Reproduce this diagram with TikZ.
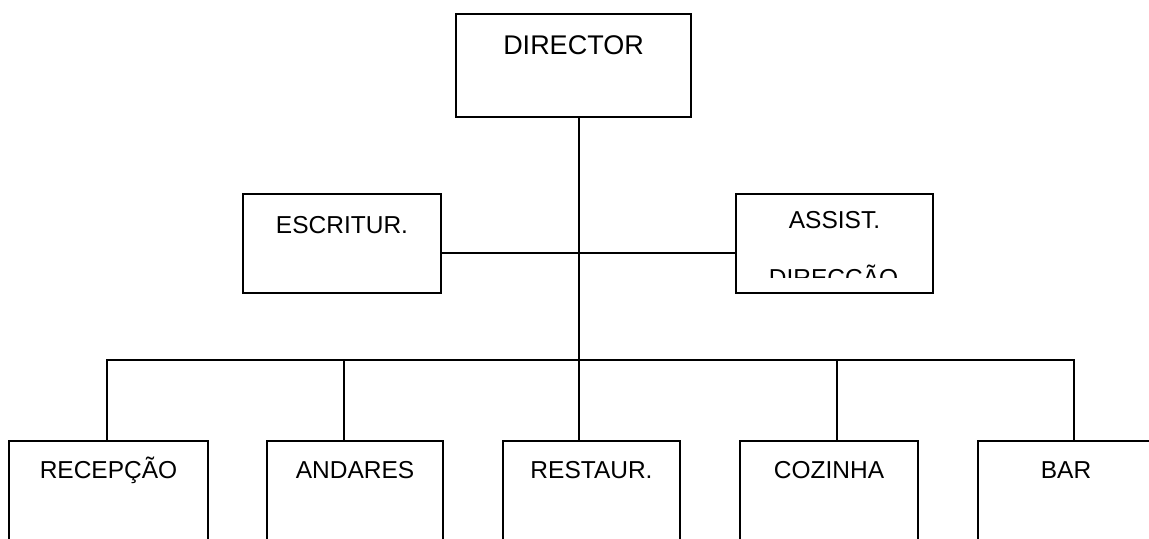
\documentclass[tikz,border=0pt]{standalone}
\usepackage{fontspec}
\setmainfont{Liberation Sans}
\usetikzlibrary{positioning, calc}

\tikzset{
  unit/.style={draw, rectangle, line width=1pt, inner xsep=0pt, inner ysep=0pt,
    anchor=north west, font=\fontsize{12.25}{14}\selectfont},
}

\begin{document}
\begin{tikzpicture}[x=0.5pt, y=-0.5pt, line width=1pt]
\useasboundingbox (0,0) rectangle (1149,538);
\clip (0,0) rectangle (1149,538);

% Director
\node[unit, minimum width=117.5pt, text height=20pt, text depth=31.5pt,
  font=\fontsize{13.5}{16}\selectfont] (director) at (455,13) {DIRECTOR};

% Staff row
\node[unit, minimum width=99pt, text height=19.5pt, text depth=30pt] (escritur) at (242,193) {ESCRITUR.};
\node[unit, minimum width=98.5pt, text height=17pt, text depth=32.5pt] (assist) at (735,193) {ASSIST.};
\begin{scope}
\clip (735,193) rectangle (933,277);
\node[font=\fontsize{12.25}{14}\selectfont, anchor=base, inner sep=0pt] (direccao) at (833.5,286) {DIRECÇÃO};
\end{scope}
\draw ([yshift=-4.5pt]escritur.east) -- ([yshift=-4.5pt]assist.west);

% Departments
\foreach \name/\x/\w/\txt in {recepcao/8/99.5/RECEPÇÃO, andares/266/88/ANDARES,
    restaur/502/88.5/RESTAUR., cozinha/739/89/COZINHA, bar/977/88/BAR} {
  \node[unit, minimum width=\w pt, text height=18.5pt, text depth=60pt] (\name) at (\x,440) {\txt};
}

% Lines
\draw ([xshift=2.5pt]director.south) -- ([xshift=2.5pt]director.south |- restaur.north);
\draw ([xshift=-1pt]recepcao.north) -- ++(0,-80) -| ([xshift=4pt]bar.north);
\draw ([xshift=-5.5pt]andares.north) -- ++(0,-80);
\draw ([xshift=4pt]cozinha.north) -- ++(0,-80);
\end{tikzpicture}
\end{document}
